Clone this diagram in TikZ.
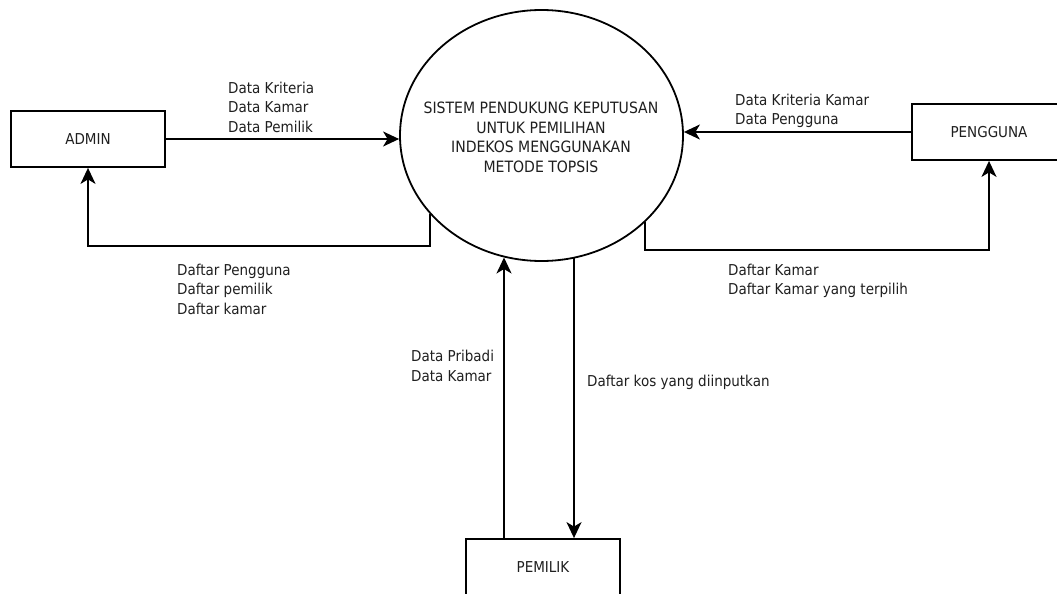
\documentclass[tikz,border=0pt]{standalone}
\usepackage{fontspec}
\setmainfont{DejaVu Sans Condensed}
\usetikzlibrary{shapes.geometric,arrows.meta,calc}

\tikzset{
  every node/.style={font=\fontsize{15}{19.5}\selectfont, text=black!88},
  entity/.style={draw=black, line width=1.8pt, rectangle, minimum width=154pt,
                 minimum height=56pt, inner sep=0pt},
  process/.style={draw=black, line width=1.8pt, ellipse, minimum width=283pt,
                  minimum height=251pt, inner sep=0pt, align=center},
  flow/.style={draw=black, line width=1.8pt,
               -{Stealth[length=16pt, width=15pt, inset=4.5pt]}},
  lbl/.style={anchor=west, align=left, inner sep=0pt},
}

\begin{document}
\begin{tikzpicture}[x=1pt, y=-1pt]
  \useasboundingbox (0,0) rectangle (1057,594);
  \clip (0,0) rectangle (1057,594);
  \fill[white] (0,0) rectangle (1057,594);

  % external entities and the central process
  \node[entity] (admin)    at (88,139)  {ADMIN};
  \node[entity] (pengguna) at (989,132) {PENGGUNA};
  \node[entity] (pemilik)  at (543,567) {PEMILIK};
  \node[process] (proc) at (541.5,135.5) {};
  \node[align=center, inner sep=0pt, font=\fontsize{15.6}{19.5}\selectfont]
    (proctext) at (541,137.5)
    {SISTEM PENDUKUNG KEPUTUSAN\\UNTUK PEMILIHAN\\INDEKOS MENGGUNAKAN\\METODE TOPSIS};

  % entry points of the two PEMILIK flows on the box top
  \coordinate (pmUp)   at ($(pemilik.north)+(-39,0)$);
  \coordinate (pmDown) at ($(pemilik.north)+(31,0)$);

  % data flows
  \draw[flow] (admin.east) -- (admin.east -| proc.west);
  \draw[flow] (proc.215) |- ($(admin.south)+(0,78)$) -- (admin.south);
  \draw[flow] (pengguna.west) -- (pengguna.west -| proc.east);
  \draw[flow] (proc.-40) |- ($(pengguna.south)+(0,89)$) -- (pengguna.south);
  \draw[flow] (pmUp) -- (pmUp |- proc.253);
  \draw[flow] (pmDown |- proc.285) -- (pmDown);

  % flow labels
  \node[lbl] (l1) at (228,107) {Data Kriteria\\Data Kamar\\Data Pemilik};
  \node[lbl] (l2) at (735,111) {Data Kriteria Kamar\\Data Pengguna};
  \node[lbl] (l3) at (177,289) {Daftar Pengguna\\Daftar pemilik\\Daftar kamar};
  \node[lbl] (l4) at (728,281) {Daftar Kamar\\Daftar Kamar yang terpilih};
  \node[lbl] (l5) at (411,366) {Data Pribadi\\Data Kamar};
  \node[lbl] (l6) at (587,382) {Daftar kos yang diinputkan};
\end{tikzpicture}
\end{document}
